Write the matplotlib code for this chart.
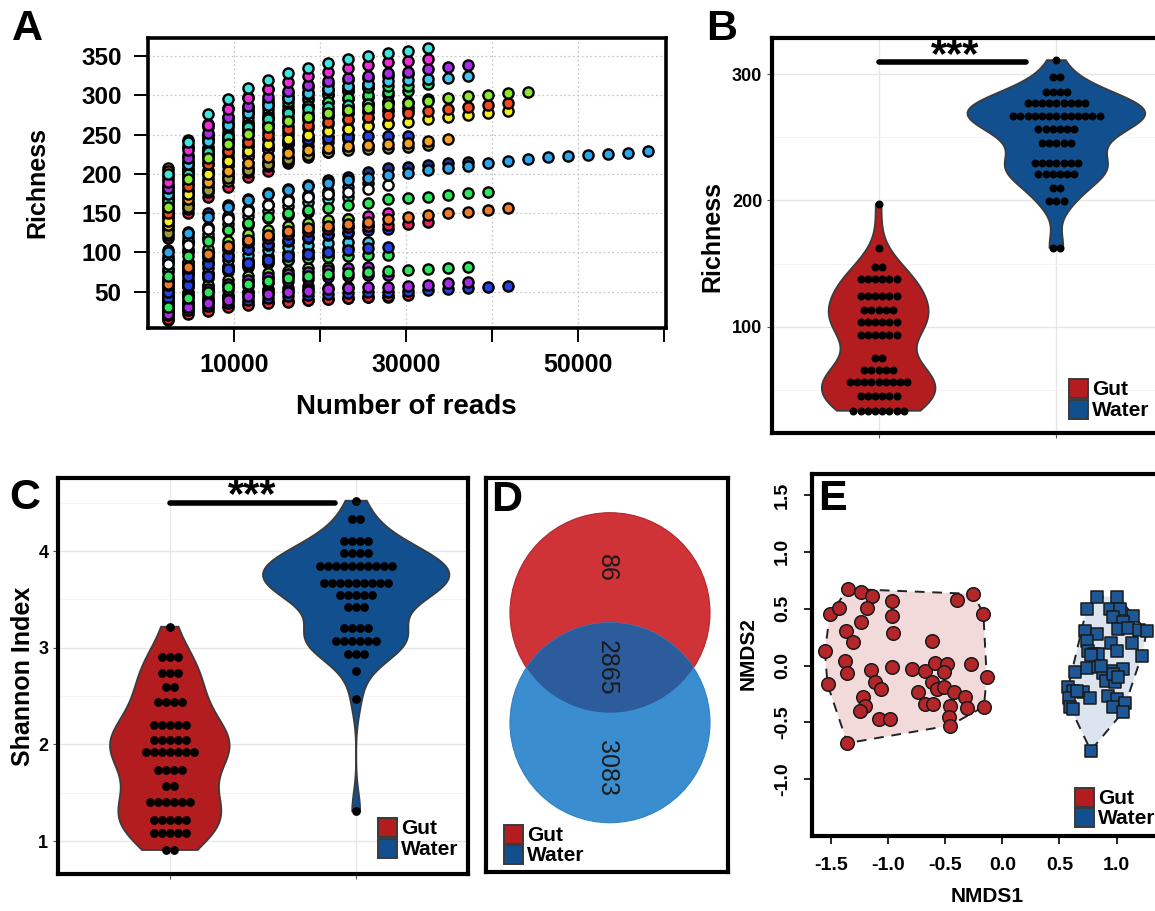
import numpy as np
import matplotlib
matplotlib.use("Agg")
import matplotlib.pyplot as plt
from matplotlib.patches import Circle, Rectangle, Polygon

plt.rcParams['font.family'] = ['Liberation Sans', 'DejaVu Sans']

# ---------------------------------------------------------------- data
# A: rarefaction curves, richness at successive subsampling depths
READ_STEP = 2325
CYAN, MAGENTA, PURPLE = '#3DE6DF', '#F22BD9', '#A82BE8'
GREEN, LIME, ORANGE = '#2BE85A', '#8CE82B', '#F7A21E'
DORANGE, REDORANGE, CRIMSON = '#F07A25', '#F24A1E', '#E8235A'
BLUE, LBLUE, NAVY = '#2341E6', '#2BA6EE', '#1F3590'
YELLOW, OLIVE, WHITE = '#F2EE1E', '#9A9A3A', '#FFFFFF'
TEAL, PINK, SKY, RED = '#2BD9B0', '#F03C9C', '#3CC8F0', '#E82A2A'

gut_curve_colors = [LIME, MAGENTA, YELLOW, PURPLE, GREEN, ORANGE, BLUE, YELLOW,
                    PURPLE, MAGENTA, LBLUE, GREEN, LIME, PINK, ORANGE, GREEN,
                    TEAL, MAGENTA, LIME, YELLOW, SKY, GREEN, LIME, CYAN, PURPLE,
                    ORANGE, MAGENTA,
                    PURPLE, LBLUE, GREEN, SKY, MAGENTA,
                    LIME, BLUE, BLUE, LBLUE, RED, BLUE, PURPLE, GREEN,
                    CRIMSON, DORANGE, GREEN, WHITE, NAVY, LBLUE]
gut_curves = [
    [14], [64], [42], [28], [96, 120], [68, 88], [92, 115, 130], [38, 50, 57],
    [25, 33, 38, 42], [78, 102, 118, 128, 135], [27, 36, 42, 46, 50, 53],
    [45, 62, 73, 80, 85], [62, 85, 100, 110, 117, 122],
    [32, 44, 52, 58, 63, 67, 70], [55, 75, 88, 97, 104, 109, 113],
    [25, 34, 40, 45, 49, 52, 55, 57], [75, 100, 118, 130, 138, 144, 148, 152],
    [40, 56, 68, 76, 82, 87, 91, 94, 97], [35, 48, 58, 65, 70, 74, 77, 80, 82],
    [45, 62, 74, 83, 90, 95, 99, 102],
    [86, 112, 131, 144, 154, 161, 167, 171, 175],
    [23, 31, 37, 41.5, 45, 48, 51, 53, 55, 56.5],
    [44, 61, 73, 82, 88, 93, 97, 100.5, 103.5, 106],
    [80, 105, 123, 136, 146, 153, 159, 164, 168, 171],
    [33, 45, 54, 60, 65, 69, 72.5, 75.5, 78, 80, 82],
    [57, 78, 93, 103, 111, 117, 122, 126, 129.5, 132, 134.5],
    [60, 83, 99, 110, 118, 124, 129, 134, 139, 143, 146.5, 150],
    [28, 38, 46, 52, 57, 61, 64, 66.5, 68.5, 70, 71, 71.4],
    [18, 25, 29, 32, 35, 37, 38.5, 40, 41, 42, 43, 43.8],
    [42, 58, 70, 78, 84, 88, 91, 93, 94.5, 95.5, 96.2, 96.8],
    [48, 66, 80, 90, 97, 103, 107, 110, 112, 113, 113.8],
    [52, 72, 86, 96, 104, 110, 115, 119, 122, 125],
    [65, 88, 104, 115, 123, 129, 134, 138, 141, 143],
    [42, 58, 70, 79, 86, 91, 95, 98.5, 101, 103, 105.5, 107.4],
    [50, 70, 85, 96, 104, 111, 116, 120, 123.5, 126.5, 128.5, 129.5],
    [90, 114, 133, 146, 155, 162, 168, 173, 178, 183, 188],
    [15, 22, 26, 30, 33, 35.5, 37.5, 39.5, 41, 42.5, 43.8, 45, 45.9],
    [20, 27, 32, 36, 39, 42, 44, 45.5, 47, 48, 49, 50, 51, 52, 53, 54.4, 56.5, 57.4],
    [22, 30, 36, 40, 44, 47, 49.5, 51.5, 53, 54.4, 55.5, 56.5, 57.4, 58.7, 60.8, 62],
    [30, 42, 50, 56, 60, 64, 67, 70, 72, 74, 75.5, 76.7, 77.7, 78.6, 79.9, 81],
    [58, 80, 96, 106, 113, 119, 124, 127.5, 130, 132, 134, 135.3, 136.3, 139],
    [60, 82, 98, 108, 116, 122, 127, 131, 133.5, 136, 139, 142, 145, 147.7, 150,
     152, 154, 157],
    [70, 95, 115, 128, 138, 145, 150, 154, 157, 160, 163.4, 167.6, 169, 171, 173,
     175.3, 176.5],
    [85, 110, 130, 143, 153, 160, 165, 170, 174, 176.5, 180.5, 185.9],
    [103, 126.5, 150, 160, 168, 175.5, 181, 186, 192, 196.5, 203, 207, 209, 211.3,
     213.4, 215.6],
    [100, 125, 145, 158, 167, 175, 180, 184, 188, 192, 195, 198.5, 201.6, 205, 208,
     210, 213.4, 216.4, 218.5, 221, 222.8, 224, 225.3, 227, 229.6],
]

water_curve_colors = [ORANGE, ORANGE, DORANGE, ORANGE, TEAL, GREEN, MAGENTA,
                      CRIMSON, YELLOW, BLUE, PINK, ORANGE, REDORANGE, ORANGE, CYAN,
                      BLUE, LIME, LIME, CYAN, MAGENTA, MAGENTA, DORANGE, ORANGE,
                      PURPLE, GREEN, GREEN, MAGENTA, BLUE, OLIVE, ORANGE, TEAL,
                      GREEN, SKY, PURPLE, YELLOW, REDORANGE, LIME, MAGENTA, CYAN]
water_curves = [
    [208], [204, 243], [197, 236, 260], [186, 224, 250, 272, 285],
    [194, 233, 264, 284, 298, 308],
    [172, 208, 232, 247, 257, 264], [155, 188, 212, 227, 237, 244, 249],
    [118, 150.7, 171, 183.8, 196, 204, 213.4],
    [122, 155, 177, 191, 202, 210, 216, 221],
    [148, 180, 202, 216, 226, 233, 238, 241.5],
    [130, 162, 185, 199, 209, 216, 221, 225, 228],
    [132, 164, 188, 203, 214, 223, 230, 236, 240, 244],
    [142, 175, 198, 213, 224, 232, 238, 243, 247, 250],
    [168, 205, 232, 250, 263, 273, 281, 287, 292, 296],
    [170, 206, 234, 253, 267, 278, 287, 294, 300, 305],
    [128, 160, 182, 196, 206, 214, 220, 225, 229, 232, 235],
    [146, 180, 205, 222, 235, 245, 253, 259, 264, 268, 271],
    [176, 212, 240, 258, 272, 283, 291, 297, 302, 306, 309],
    [180, 216, 244, 263, 277, 288, 296, 302, 307, 311, 314],
    [138, 170, 194, 210, 222, 232, 240, 247, 253, 258, 262, 265],
    [168, 203, 230, 248, 262, 272, 280, 286, 291, 295, 298, 301],
    [162, 197, 223, 241, 254, 264, 272, 278, 283, 287, 290, 292],
    [157, 192, 218, 236, 249, 259, 267, 274, 279, 284, 288, 291],
    [152, 186, 212, 230, 243, 253, 261, 268, 273, 277, 280, 283, 285],
    [166, 201, 227, 245, 259, 270, 279, 286, 292, 297, 301, 304, 306],
    [184, 221, 249, 268, 283, 294, 303, 310, 315, 319, 322, 325, 327],
    [160, 196, 224, 242, 254, 262, 268, 272, 275, 277, 279, 280, 281],
    [145, 178, 203, 219, 230, 237, 241.5, 244.5, 246.3, 247.2, 247.6, 247.9, 248],
    [125, 158, 180, 195, 205, 213, 219, 224, 227.5, 230, 232, 233.3, 234, 236.8],
    [135, 168, 190, 204, 214, 221, 226, 230, 233, 235, 236.5, 237.8, 239, 241.9, 244],
    [165, 200, 228, 247, 260, 270, 277, 282, 285, 287.5, 289.5, 291, 292, 295],
    [178, 214, 244, 264, 279, 290, 298, 304, 308, 310, 311, 311.5, 312, 314.4],
    [175, 212, 242, 262, 277, 288, 296, 303, 308, 312, 315, 318, 319.5, 321, 322.4, 325],
    [182, 220, 252, 272, 287, 298, 306, 313, 318, 322, 325, 328, 330, 333, 336.4, 338.5],
    [140, 174, 200, 217, 229, 238, 245, 250, 254, 257.5, 260.5, 263.5, 266.5, 269.4,
     272, 275, 277, 280],
    [150, 185, 212, 229, 241, 250, 257, 262, 266, 269.5, 272.5, 275, 277, 280, 282.6,
     285.5, 287.7, 290],
    [158, 193, 220, 238, 251, 260, 267, 272, 277, 281, 284.5, 287.5, 290, 293, 296,
     299, 300.4, 302.5, 303.8],
    [190, 230, 262, 282, 297, 308, 317, 324, 330, 335, 339, 342, 344, 345.8],
    [200, 240, 276, 295, 309, 319.5, 328, 335, 340.7, 345.8, 350, 354, 356.8, 359.8],
]

# B: richness dot rows (value, number of samples)
rich_gut_levels = [197, 162.2, 147.7, 137.7, 124, 113.4, 104.2, 93.7, 75.3, 65.5, 56.3, 45, 33.6]
rich_gut_counts = [1, 1, 2, 6, 6, 5, 6, 6, 2, 5, 9, 6, 8]
rich_water_levels = [311, 297.4, 285.5, 276.8, 267, 256.5, 245.2, 229.4, 220.7, 210.1, 199.6, 162.7]
rich_water_counts = [1, 2, 4, 9, 13, 6, 5, 7, 6, 2, 3, 2]

# C: Shannon index dot rows
shan_gut_levels = [3.217, 2.90, 2.735, 2.59, 2.44, 2.20, 2.05, 1.925, 1.735, 1.573, 1.40, 1.218, 1.087, 0.908]
shan_gut_counts = [1, 3, 3, 2, 4, 5, 5, 7, 4, 2, 6, 5, 5, 2]
shan_water_levels = [4.52, 4.33, 4.10, 3.976, 3.84, 3.67, 3.54, 3.42, 3.20, 3.07, 2.94, 2.76, 2.47, 1.31]
shan_water_counts = [1, 2, 4, 4, 10, 9, 5, 3, 4, 6, 3, 1, 1, 1]

# D: shared and unique OTUs
venn_sets = ['Gut', 'Water']
venn_counts = {'gut_only': 86, 'shared': 2865, 'water_only': 3083}

# E: NMDS ordination scores
nmds_gut_x = [-1.349, -1.24, -1.14, -1.509, -1.427, -1.188, -1.24, -1.369, -1.305, -0.969,
              -0.969, -0.954, -0.40, -0.254, -0.166, -1.553, -1.378, -1.357, -1.53, -1.153,
              -1.115, -1.065, -1.217, -1.203, -1.246, -1.077, -0.984, -0.969, -0.794, -0.613,
              -0.677, -0.59, -0.482, -0.511, -0.619, -0.575, -0.511, -0.736, -0.677, -0.604,
              -0.42, -0.458, -0.464, -0.458, -0.327, -0.312, -0.274, -0.137, -0.161, -1.357]
nmds_gut_y = [0.674, 0.645, 0.616, 0.455, 0.507, 0.507, 0.381, 0.308, 0.205, 0.572,
              0.44, 0.284, 0.578, 0.63, 0.455, 0.126, 0.044, -0.065, -0.167, -0.038,
              -0.147, -0.205, -0.279, -0.352, -0.402, -0.469, -0.469, -0.009, -0.029, 0.22,
              -0.044, 0.02, 0.015, -0.059, -0.147, -0.205, -0.191, -0.235, -0.337, -0.337,
              -0.235, -0.352, -0.449, -0.528, -0.273, -0.372, 0.009, -0.097, -0.361, -0.683]
nmds_water_x = [0.826, 1.007, 0.738, 0.943, 1.03, 0.966, 1.141, 1.054, 1.016, 1.097,
                1.197, 1.264, 0.724, 0.832, 0.738, 0.952, 1.138, 1.001, 0.753, 0.806,
                0.835, 1.22, 0.636, 0.738, 0.835, 0.884, 0.966, 1.054, 0.905, 0.987,
                0.972, 0.578, 0.622, 0.709, 0.768, 0.928, 1.001, 0.587, 0.593, 0.622,
                0.966, 1.074, 1.054, 0.774, 0.651, 1.016, 0.78, 0.86]
nmds_water_y = [0.607, 0.607, 0.499, 0.499, 0.499, 0.425, 0.44, 0.381, 0.317, 0.331,
                0.314, 0.302, 0.308, 0.279, 0.22, 0.196, 0.196, 0.126, 0.132, 0.103,
                0.097, 0.088, -0.059, -0.021, -0.015, -0.065, -0.05, -0.029, -0.132, -0.147,
                -0.073, -0.185, -0.22, -0.235, -0.284, -0.264, -0.293, -0.284, -0.367, -0.381,
                -0.361, -0.331, -0.411, -0.748, -0.22, -0.103, 0.09, 0.0]

# ---------------------------------------------------------------- styling
GUT_FILL, WATER_FILL = '#B31D1F', '#124F8F'
KEY_EDGE = '#3a3a3a'
W, H = 1155, 911
fig = plt.figure(figsize=(W / 100, H / 100), dpi=100)


def px_axes(left, top, right, bottom):
    return fig.add_axes([left / W, 1 - bottom / H, (right - left) / W, (bottom - top) / H])


def ftext(x, y, s, **kw):
    fig.text(x / W, 1 - y / H, s, **kw)


def legend_keys(x, top, labels, colors, size=19, gap=2, fontsize=15):
    for i, (lab, col) in enumerate(zip(labels, colors)):
        y0 = top + i * (size + gap)
        fig.add_artist(Rectangle((x / W, 1 - (y0 + size) / H), size / W, size / H,
                                 transform=fig.transFigure, facecolor=col,
                                 edgecolor=KEY_EDGE, lw=1.4))
        ftext(x + size + 4, y0 + size / 2 + 1, lab, fontsize=fontsize,
              fontweight='bold', va='center', ha='left')


def panel_letter(x, y, s):
    ftext(x, y, s, fontsize=31, fontweight='bold', ha='center', va='center')


# ---------------------------------------------------------------- A
axA = px_axes(148, 38, 666, 328)
axA.set_xlim(0, 60200)
axA.set_ylim(3.8, 373)
for xg in [10000, 20000, 30000, 40000, 50000]:
    axA.axvline(xg, color='#c8c8c8', lw=0.9, ls=(0, (1.5, 2)), zorder=0)
for yg in range(50, 351, 50):
    axA.axhline(yg, color='#c8c8c8', lw=0.9, ls=(0, (1.5, 2)), zorder=0)

z = 2
for curves, colors in [(gut_curves, gut_curve_colors), (water_curves, water_curve_colors)]:
    for vals, col in zip(curves, colors):
        depth = READ_STEP * np.arange(1, len(vals) + 1)
        axA.scatter(depth, vals, s=54, facecolor=col, edgecolor='black',
                    linewidths=1.7, zorder=z, clip_on=False)
        z += 0.01

for sp in axA.spines.values():
    sp.set_linewidth(2.6)
axA.set_xticks([10000, 20000, 30000, 40000, 50000, 60000],
               ['10000', '', '30000', '', '50000', ''], fontweight='bold', fontsize=18)
axA.set_yticks(range(50, 351, 50), [str(v) for v in range(50, 351, 50)],
               fontweight='bold', fontsize=17.5)
axA.tick_params(axis='both', direction='out', length=10, width=1.4)
axA.tick_params(axis='x', pad=8)
axA.tick_params(axis='y', pad=9)
ftext(406, 407, 'Number of reads', fontsize=20, fontweight='bold', ha='center', va='center')
ftext(37, 183, 'Richness', fontsize=18, fontweight='bold', ha='center', va='center',
      rotation=90)
panel_letter(27, 29, 'A')


# ---------------------------------------------------------------- violins
def kde_nrd0(values, n=512):
    v = np.asarray(values, float)
    sd = v.std(ddof=1)
    q75, q25 = np.percentile(v, [75, 25])
    lo = min(sd, (q75 - q25) / 1.34)
    bw = 0.9 * lo * len(v) ** -0.2
    grid = np.linspace(v.min(), v.max(), n)
    dens = np.exp(-0.5 * ((grid[:, None] - v[None, :]) / bw) ** 2).sum(1)
    dens /= len(v) * bw * np.sqrt(2 * np.pi)
    return grid, dens


def violin_panel(ax, groups, pitch, dot_s):
    kdes = [kde_nrd0(np.repeat(lv, ct)) for lv, ct, _ in groups]
    dmax = max(d.max() for _, d in kdes)
    for pos, ((grid, dens), (lv, ct, col)) in enumerate(zip(kdes, groups), start=1):
        half = dens / dmax * 0.5
        xs = np.concatenate([pos - half, (pos + half)[::-1]])
        ys = np.concatenate([grid, grid[::-1]])
        ax.fill(xs, ys, facecolor=col, edgecolor='#3c3c3c', lw=1.3, zorder=2)
        for level, count in zip(lv, ct):
            offs = (np.arange(count) - (count - 1) / 2) * pitch
            ax.scatter(pos + offs, np.full(count, level), s=dot_s, color='black',
                       lw=0, zorder=3)


def ggplot_frame(ax):
    ax.set_facecolor('white')
    ax.grid(True, which='major', color='#e6e6e6', lw=1.0, zorder=0)
    ax.grid(True, which='minor', axis='y', color='#f2f2f2', lw=0.6, zorder=0)
    ax.set_axisbelow(True)
    for sp in ax.spines.values():
        sp.set_linewidth(3.0)
    ax.tick_params(axis='both', which='major', direction='out', length=3.5, width=0.8,
                   color='#555555', labelsize=13)
    ax.tick_params(axis='both', which='minor', length=0)
    ax.set_xticks([1, 2], ['', ''])


# ---------------------------------------------------------------- B
axB = px_axes(772, 38, 1163, 433)
axB.set_xlim(0.4, 2.6)
axB.set_ylim(16, 328.5)
ggplot_frame(axB)
axB.set_yticks([100, 200, 300], ['100', '200', '300'], fontweight='bold')
axB.set_yticks([50, 150, 250], minor=True)
violin_panel(axB, [(rich_gut_levels, rich_gut_counts, GUT_FILL),
                   (rich_water_levels, rich_water_counts, WATER_FILL)],
             pitch=0.0405, dot_s=33)
axB.plot([1, 1.83], [309.3, 309.3], color='black', lw=4, solid_capstyle='round', zorder=4)
axB.text(1.43, 314.5, '***', fontsize=30, fontweight='bold', ha='center', va='center',
         zorder=5)
ftext(712, 236, 'Richness', fontsize=18, fontweight='bold', ha='center', va='center',
      rotation=90)
legend_keys(1069, 379, venn_sets, [GUT_FILL, WATER_FILL])
panel_letter(722, 29, 'B')

# ---------------------------------------------------------------- C
axC = px_axes(58, 478, 468, 874)
axC.set_xlim(0.4, 2.6)
axC.set_ylim(0.66, 4.755)
ggplot_frame(axC)
axC.set_yticks([1, 2, 3, 4], ['1', '2', '3', '4'], fontweight='bold')
axC.set_yticks([1.5, 2.5, 3.5, 4.5], minor=True)
violin_panel(axC, [(shan_gut_levels, shan_gut_counts, GUT_FILL),
                   (shan_water_levels, shan_water_counts, WATER_FILL)],
             pitch=0.0427, dot_s=40)
axC.plot([1, 1.886], [4.50, 4.50], color='black', lw=4, solid_capstyle='round', zorder=4)
axC.text(1.44, 4.565, '***', fontsize=30, fontweight='bold', ha='center', va='center',
         zorder=5)
ftext(23, 676, 'Shannon Index', fontsize=18, fontweight='bold', ha='center', va='center',
      rotation=90)
legend_keys(378, 818, venn_sets, [GUT_FILL, WATER_FILL])
panel_letter(25, 498, 'C')

# ---------------------------------------------------------------- D
axD = px_axes(486, 478, 728, 872)
axD.set_xlim(-1.24, 1.18)
axD.set_ylim(-2.043, 1.897)
axD.set_xticks([])
axD.set_yticks([])
for sp in axD.spines.values():
    sp.set_linewidth(3.0)
red_c = Circle((0, 0.55), 1.0, facecolor='#CF3237', edgecolor='#B0272C', lw=0.8, zorder=1)
blue_c = Circle((0, -0.55), 1.0, facecolor='#3A8ECF', edgecolor='#3380C2', lw=0.8, zorder=2)
axD.add_patch(red_c)
axD.add_patch(blue_c)
overlap = Circle((0, -0.55), 1.0, facecolor='#2D5C9C', edgecolor='none', zorder=3)
axD.add_patch(overlap)
overlap.set_clip_path(red_c)
for yv, key in [(1.0, 'gut_only'), (0.0, 'shared'), (-1.0, 'water_only')]:
    axD.text(-0.03, yv, str(venn_counts[key]), rotation=270, fontsize=18,
             color='#1a1a1a', ha='center', va='center', zorder=5)
legend_keys(504, 825, venn_sets, [GUT_FILL, WATER_FILL], gap=1)
panel_letter(507, 500, 'D')

# ---------------------------------------------------------------- E
axE = px_axes(812, 474, 1168, 836)
axE.set_xlim(-1.666, 1.45)
axE.set_ylim(-1.5, 1.685)


def convex_hull(xs, ys):
    pts = sorted(set(zip(xs, ys)))

    def cross(o, a, b):
        return (a[0] - o[0]) * (b[1] - o[1]) - (a[1] - o[1]) * (b[0] - o[0])
    lower, upper = [], []
    for p in pts:
        while len(lower) >= 2 and cross(lower[-2], lower[-1], p) <= 0:
            lower.pop()
        lower.append(p)
    for p in reversed(pts):
        while len(upper) >= 2 and cross(upper[-2], upper[-1], p) <= 0:
            upper.pop()
        upper.append(p)
    return np.array(lower[:-1] + upper[:-1])


for xs, ys, fill in [(nmds_gut_x, nmds_gut_y, '#F3DADA'), (nmds_water_x, nmds_water_y, '#DCE5EF')]:
    hull = convex_hull(xs, ys)
    axE.add_patch(Polygon(hull, closed=True, facecolor=fill, edgecolor='none', zorder=1))
    axE.add_patch(Polygon(hull, closed=True, facecolor='none', edgecolor='#222222',
                          lw=1.4, ls=(0, (5, 4)), zorder=2))
axE.scatter(nmds_gut_x, nmds_gut_y, s=95, marker='o', facecolor='#B3262A',
            edgecolor='#1a1a1a', lw=1.1, zorder=3)
axE.scatter(nmds_water_x, nmds_water_y, s=85, marker='s', facecolor='#1D5796',
            edgecolor='#1a1a1a', lw=1.1, zorder=4)
for sp in axE.spines.values():
    sp.set_linewidth(3.0)
xt = [-1.5, -1.0, -0.5, 0.0, 0.5, 1.0]
yt = [-1.0, -0.5, 0.0, 0.5, 1.0, 1.5]
axE.set_xticks(xt, [f'{v:.1f}' for v in xt], fontweight='bold')
axE.set_yticks(yt, [f'{v:.1f}' for v in yt], fontweight='bold', rotation=90, va='center')
axE.tick_params(axis='both', direction='out', length=6, width=1.2, labelsize=14)
axE.tick_params(axis='x', pad=9)
axE.tick_params(axis='y', pad=9)
ftext(987, 897, 'NMDS1', fontsize=15, fontweight='bold', ha='center', va='center')
ftext(748, 653, 'NMDS2', fontsize=15, fontweight='bold', ha='center', va='center',
      rotation=90)
legend_keys(1075, 788, venn_sets, [GUT_FILL, WATER_FILL], gap=1)
panel_letter(832, 499, 'E')

fig.savefig('out.png', dpi=100)
